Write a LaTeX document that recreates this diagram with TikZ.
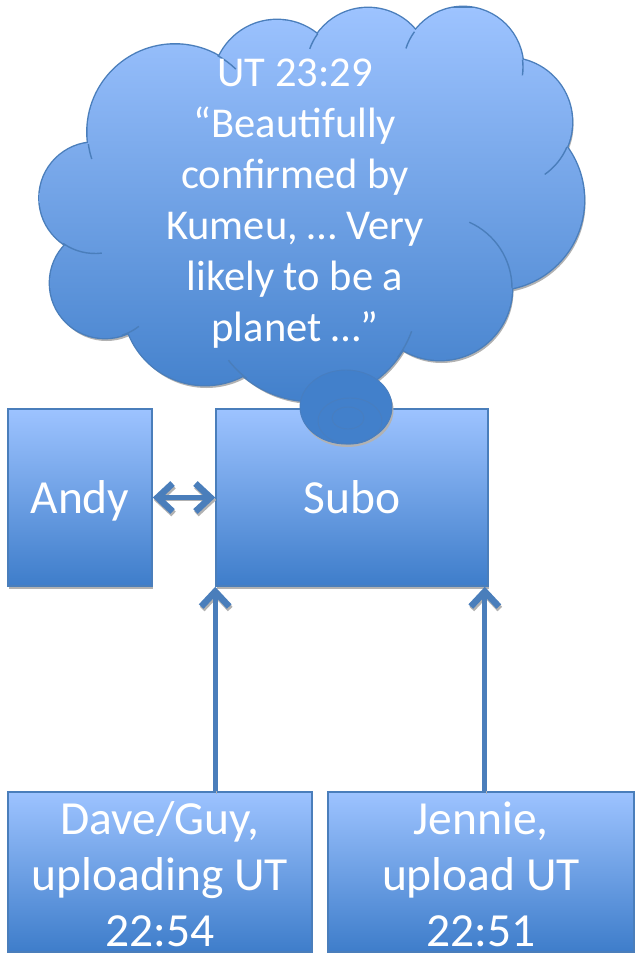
\documentclass[tikz,border=0pt]{standalone}
\usepackage{fontspec}
\setmainfont{Carlito}
\usetikzlibrary{arrows.meta,shadows}
\definecolor{boxtop}{RGB}{157,195,255}
\definecolor{boxbot}{RGB}{62,125,202}
\definecolor{cloudbot}{RGB}{66,128,203}
\definecolor{edge}{RGB}{74,126,187}
\definecolor{shadowgray}{RGB}{178,178,178}
\newcommand{\lns}[1]{\vtop{\halign{\hfil##\hfil\cr#1\crcr}}}
\begin{document}
\begin{tikzpicture}[x=1pt,y=-1pt,
  box/.style={draw=edge, line width=1.6pt, top color=boxtop, bottom color=boxbot,
    inner sep=0pt, text=white, font=\fontsize{47.5}{56}\selectfont,
    drop shadow={shadow xshift=1pt, shadow yshift=-3pt, fill=shadowgray, opacity=1}},
  cloudtext/.style={text=white, inner sep=0pt, font=\fontsize{42.5}{51}\selectfont},
  tipA/.tip={Straight Barb[length=15pt,width=28pt,line width=6.5pt]},
  arr/.style={draw=edge, line width=5pt, -tipA,
    preaction={draw=shadowgray, transform canvas={xshift=1pt,yshift=-2.5pt}}},
  dbl/.style={draw=edge, line width=5pt, tipA-tipA,
    preaction={draw=shadowgray, transform canvas={xshift=1pt,yshift=-2.5pt}}},
  cloudline/.style={draw=edge, line width=1.4pt},
  cloudpath/.style={insert path={
    (175,132) circle[radius=87.5]
    (277,84) circle[radius=64]
    (368,70) circle[radius=62]
    (463,67) circle[radius=60]
    (508,122) circle[radius=64]
    (494,200) circle[radius=90]
    (440,288) circle[radius=72]
    (312,295) circle[radius=106]
    (205,303) circle[radius=82]
    (105,283) circle[radius=55]
    (95,198) circle[radius=55.5]
    (310,200) circle[radius=150]
    (150,240) circle[radius=50]
    (430,140) circle[radius=40]}}
]
\useasboundingbox (0,0) rectangle (635,953);
\clip (0,0) rectangle (635,953);

% boxes
\node[box, minimum width=144pt, minimum height=177pt, text height=31pt, text depth=0pt] (andy) at (80,497.5) {Andy};
\node[box, minimum width=272pt, minimum height=177pt, text height=31pt, text depth=0pt] (subo) at (352,497.5) {Subo};
\node[box, minimum width=304pt, minimum height=160pt, text height=0pt, text depth=76pt] (dave) at (160,872) {\lns{Dave/Guy,\cr uploading UT\cr 22:54}};
\node[box, minimum width=306pt, minimum height=160pt, text height=0pt, text depth=76pt] (jennie) at (481,872) {\lns{Jennie,\cr upload UT\cr 22:51}};

% connectors
\coordinate (sl) at (subo.south west);
\coordinate (sr) at ([xshift=-4pt]subo.south east);
\draw[dbl] (andy.east) -- (subo.west);
\draw[arr] (dave.north -| sl) -- (sl);
\draw[arr] (jennie.north -| sr) -- (sr);

% shadows of bubble and cloud
\fill[shadowgray] (347.5,410) ellipse[x radius=46, y radius=37];
\fill[shadowgray, shift={(1.5,3)}, cloudpath];
% cloud
\draw[edge, line width=2.8pt, cloudpath];
\begin{scope}
  \clip[cloudpath];
  \shade[top color=boxtop, bottom color=cloudbot] (30,8) rectangle (600,402);
\end{scope}
\draw[cloudline] (175,132) ++(172:87.5) arc[start angle=172, end angle=162, radius=87.5];
\draw[cloudline] (175,132) ++(-61:87.5) arc[start angle=-61, end angle=-46, radius=87.5];
\draw[cloudline] (95,198) ++(125:55.5) arc[start angle=125, end angle=83, radius=55.5];
\draw[cloudline] (105,283) ++(72:55) arc[start angle=72, end angle=52, radius=55];
\draw[cloudline] (312,295) ++(128:106) arc[start angle=128, end angle=142, radius=106];
\draw[cloudline] (312,295) ++(36:106) arc[start angle=36, end angle=20, radius=106];
\draw[cloudline] (440,288) ++(0:72) arc[start angle=0, end angle=-66, radius=72];
\draw[cloudline] (508,122) ++(23:64) arc[start angle=23, end angle=55, radius=64];
\draw[cloudline] (463,67) ++(-7:60) arc[start angle=-7, end angle=8, radius=60];
\draw[cloudline] (463,67) ++(216:60) arc[start angle=216, end angle=198, radius=60];
\draw[cloudline] (368,70) ++(216:62) arc[start angle=216, end angle=200, radius=62];

% small thought bubble
\fill[cloudbot] (346,407) ellipse[x radius=46, y radius=37];
\draw[edge!70!cloudbot, line width=0.9pt] (346,407) ellipse[x radius=46, y radius=37];
\draw[edge!70!cloudbot, line width=0.9pt] (350,421) ellipse[x radius=32, y radius=23];
\draw[edge!70!cloudbot, line width=0.9pt] (348,418) ellipse[x radius=16, y radius=11];

\node[cloudtext, anchor=base] (thought) at (295,86) {\lns{UT 23:29\cr “Beautifully\cr confirmed by\cr Kumeu, … Very\cr likely to be a\cr planet …”}};
\end{tikzpicture}
\end{document}
